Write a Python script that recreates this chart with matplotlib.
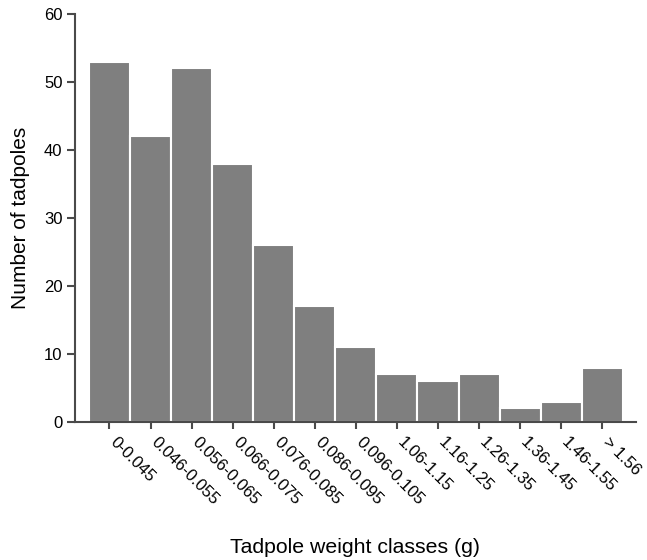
"""Tadpole weight class histogram (bar chart)."""

import matplotlib
matplotlib.use("Agg")
import matplotlib.pyplot as plt
from matplotlib.transforms import ScaledTranslation

weight_classes = [
    "0-0.045", "0.046-0.055", "0.056-0.065", "0.066-0.075", "0.076-0.085",
    "0.086-0.095", "0.096-0.105", "1.06-1.15", "1.16-1.25", "1.26-1.35",
    "1.36-1.45", "1.46-1.55", "> 1.56",
]
counts = [53, 42, 52, 38, 26, 17, 11, 7, 6, 7, 2, 3, 8]
y_ticks = [0, 10, 20, 30, 40, 50, 60]

plt.rcParams["font.family"] = ["Liberation Sans", "DejaVu Sans"]
AXIS_COLOR = "#4a4a4a"

fig = plt.figure(figsize=(6.47, 5.60), dpi=100)
ax = fig.add_axes([0.1159, 0.2464, 0.867, 0.7286])

x = range(len(counts))
ax.bar(x, counts, width=1.0, color="#7f7f7f", edgecolor="white", linewidth=1.5)

ax.set_xlim(-0.84, len(counts) - 0.18)
ax.set_ylim(0, 60)
ax.set_yticks(y_ticks)
ax.set_xticks(list(x))
ax.tick_params(axis="y", labelsize=12, length=6, width=1.5, color=AXIS_COLOR, pad=3)
ax.tick_params(axis="x", length=5, width=1.5, color=AXIS_COLOR, pad=4)
ax.set_xticklabels(weight_classes, rotation=-45, ha="left", va="top",
                   rotation_mode="anchor", fontsize=12)

# nudge the slanted labels right of their ticks, as in the original
shift = ScaledTranslation(6 / 72, 0, fig.dpi_scale_trans)
for lbl in ax.get_xticklabels():
    lbl.set_transform(lbl.get_transform() + shift)

for side in ("top", "right"):
    ax.spines[side].set_visible(False)
for side in ("left", "bottom"):
    ax.spines[side].set_color(AXIS_COLOR)
    ax.spines[side].set_linewidth(1.5)

ax.set_ylabel("Number of tadpoles", fontsize=15, labelpad=10)
fig.text(0.549, 0.006, "Tadpole weight classes (g)", fontsize=15.3, ha="center", va="bottom")

fig.savefig("out.png", dpi=100)
plt.close(fig)
